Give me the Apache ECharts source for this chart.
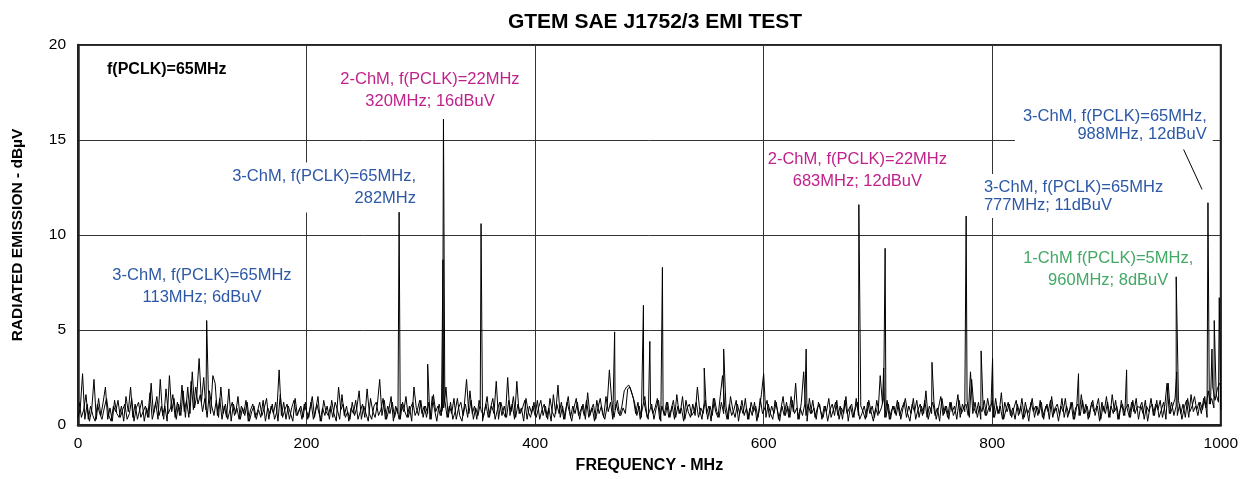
<!DOCTYPE html>
<html>
<head>
<meta charset="utf-8">
<title>GTEM SAE J1752/3 EMI TEST</title>
<script src="https://cdn.jsdelivr.net/npm/echarts@6/dist/echarts.min.js"></script>
<style>
  html, body { margin: 0; padding: 0; background: #fff; }
  #chart { width: 1241px; height: 479px; }
</style>
</head>
<body>
<div id="chart"></div>
<script>
// Axis ticks
const xTicks = [0, 200, 400, 600, 800, 1000];
const yTicks = [0, 5, 10, 15, 20];

// Sweep A: noise floor sampled every 2 MHz starting at 0 MHz (dBuV)
const sweepAStart = 0;
const sweepAStep = 2;
const sweepA = [
  0.4, 0.9, 2.7, 0.3, 1.1, 0.2, 0.8, 2.4, 0.3, 1.4,
  0.5, 1.2, 2.0, 0.3, 0.9, 0.2, 1.3, 0.6, 0.4, 1.0,
  0.2, 1.5, 0.7, 2.0, 0.4, 1.1, 0.3, 0.8, 1.3, 0.2,
  0.9, 0.4, 2.2, 0.6, 1.2, 0.3, 2.4, 0.5, 1.0, 0.2,
  2.6, 0.7, 1.4, 0.3, 1.1, 0.5, 1.8, 0.4, 2.0, 0.6,
  2.8, 0.9, 1.6, 3.5, 1.2, 2.5, 0.8, 1.9, 0.6, 2.6,
  2.2, 0.5, 1.4, 0.3, 1.0, 0.4, 1.9, 0.2, 1.1, 0.6,
  1.5, 0.3, 0.9, 0.5, 1.2, 0.2, 0.7, 1.0, 0.3, 0.8,
  0.4, 1.3, 0.2, 0.9, 0.6, 1.1, 0.3, 0.7, 2.9, 0.5,
  1.2, 0.3, 1.0, 0.6, 0.2, 1.4, 0.5, 0.9, 0.3, 1.1,
  0.7, 0.4, 1.2, 0.3, 0.8, 1.5, 0.2, 0.9, 0.5, 1.0,
  0.3, 1.3, 0.6, 0.2, 2.0, 0.8, 1.1, 0.4, 0.7, 0.3,
  1.2, 0.5, 0.9, 1.8, 0.3, 1.0, 0.6, 0.2, 1.4, 0.7,
  0.4, 1.1, 2.4, 0.5, 1.3, 0.3, 0.8, 1.5, 0.2, 1.0,
  0.6, 0.3, 1.2, 0.7, 0.4, 1.0, 0.2, 2.0, 0.9, 0.5,
  1.3, 0.4, 1.0, 0.6, 0.3, 1.5, 0.8, 0.2, 1.1, 0.5,
  0.9, 2.0, 0.4, 1.2, 0.3, 0.7, 1.4, 0.5, 0.2, 1.0,
  2.4, 0.6, 1.3, 0.3, 0.9, 0.5, 1.1, 0.2, 0.8, 1.5,
  0.4, 1.0, 0.6, 2.3, 0.3, 1.2, 0.7, 0.4, 2.5, 0.5,
  1.1, 0.3, 2.3, 0.6, 0.9, 0.2, 1.4, 0.7, 0.4, 1.0,
  0.5, 1.3, 0.3, 0.8, 1.1, 0.4, 0.9, 0.2, 1.6, 0.6,
  2.1, 0.4, 1.0, 0.3, 1.2, 0.7, 0.2, 0.9, 1.4, 0.5,
  0.8, 1.1, 0.3, 1.7, 0.5, 0.9, 0.2, 1.3, 0.6, 1.0,
  0.4, 1.5, 0.7, 1.2, 0.3, 0.8, 1.3, 0.5, 1.0, 1.8,
  2.0, 2.1, 1.8, 1.4, 0.6, 1.2, 0.3, 0.9, 1.5, 0.4,
  0.7, 1.1, 0.3, 0.9, 1.3, 0.2, 0.8, 0.5, 1.2, 0.4,
  1.0, 0.3, 1.6, 0.6, 0.9, 0.2, 1.3, 0.7, 0.4, 1.1,
  0.5, 2.0, 0.8, 0.3, 1.2, 0.6, 1.0, 0.2, 1.4, 0.7,
  0.4, 1.5, 2.6, 0.9, 0.3, 1.1, 0.5, 0.8, 1.3, 0.2,
  1.0, 0.6, 1.4, 0.3, 0.9, 0.5, 1.2, 0.2, 0.7, 1.6,
  2.7, 0.4, 1.1, 0.6, 0.3, 1.3, 0.8, 0.2, 1.0, 0.5,
  1.2, 0.4, 1.5, 0.7, 2.2, 0.3, 0.9, 0.5, 1.1, 0.2,
  1.4, 0.6, 0.9, 0.3, 1.2, 0.7, 0.4, 1.0, 0.2, 0.8,
  1.1, 0.5, 1.3, 0.3, 0.9, 0.6, 1.5, 0.2, 1.0, 0.4,
  0.8, 1.2, 0.3, 0.6, 1.0, 0.4, 1.3, 0.7, 0.2, 0.9,
  0.5, 2.6, 1.1, 0.4, 1.3, 0.3, 0.8, 1.0, 0.5, 1.2,
  0.3, 0.9, 1.4, 0.6, 0.2, 1.1, 0.7, 1.3, 0.4, 1.0,
  0.6, 1.8, 0.3, 0.8, 1.2, 0.5, 0.9, 0.2, 1.4, 0.6,
  1.0, 0.3, 1.2, 0.5, 0.8, 1.6, 0.4, 1.1, 0.7, 1.3,
  0.4, 2.4, 0.9, 0.6, 1.2, 0.3, 1.0, 0.5, 1.4, 0.7,
  1.3, 0.4, 1.0, 0.6, 1.7, 0.3, 0.8, 1.2, 0.5, 0.9,
  0.3, 1.1, 0.6, 1.4, 0.4, 0.9, 0.2, 1.2, 0.7, 1.0,
  0.5, 1.3, 0.4, 0.8, 1.1, 0.3, 1.5, 0.6, 0.9, 0.2,
  1.0, 0.7, 1.4, 0.4, 0.8, 1.2, 0.3, 1.0, 0.5, 1.6,
  0.6, 1.1, 0.3, 0.9, 1.3, 0.5, 1.0, 0.2, 1.2, 0.7,
  1.5, 0.4, 1.0, 0.6, 1.3, 0.3, 0.8, 1.1, 0.5, 0.9,
  0.4, 1.2, 0.7, 1.4, 0.3, 1.0, 0.6, 1.3, 0.2, 0.9,
  1.1, 0.5, 1.3, 0.4, 0.8, 1.2, 0.3, 2.2, 0.6, 1.0,
  1.4, 0.5, 1.1, 0.3, 0.9, 1.3, 0.4, 1.6, 0.7, 1.0,
  0.5, 1.2, 0.8, 1.5, 0.4, 1.1, 1.4, 0.9, 1.6, 1.2,
  0.8
];

// Sweep B: noise floor sampled every 2 MHz starting at 1 MHz (dBuV)
const sweepBStart = 1;
const sweepBStep = 2;
const sweepB = [
  1.2, 0.4, 0.8, 1.6, 0.3, 1.0, 0.5, 0.2, 1.1, 0.6,
  0.3, 0.9, 1.4, 0.5, 0.2, 1.0, 0.7, 1.3, 0.4, 0.8,
  1.1, 0.3, 0.6, 1.4, 0.2, 0.9, 1.2, 0.4, 0.7, 1.0,
  0.4, 1.7, 0.3, 0.8, 1.5, 0.5, 1.0, 0.3, 1.9, 0.6,
  0.9, 1.6, 0.4, 1.2, 0.5, 2.1, 0.7, 1.3, 0.4, 2.3,
  0.8, 2.0, 1.1, 1.6, 0.7, 1.4, 0.4, 1.8, 1.0, 0.5,
  1.3, 0.4, 2.0, 0.6, 1.1, 0.3, 0.8, 1.2, 0.5, 0.9,
  0.3, 1.0, 0.6, 1.3, 0.2, 0.8, 1.1, 0.4, 0.7, 1.2,
  0.5, 0.9, 1.4, 0.3, 1.0, 0.6, 1.2, 0.2, 1.6, 0.4,
  0.8, 1.1, 0.3, 0.9, 1.3, 0.5, 0.7, 1.0, 0.4, 1.2,
  0.3, 0.9, 1.5, 0.4, 1.1, 0.6, 0.2, 1.3, 0.7, 0.5,
  1.0, 0.4, 1.2, 0.8, 0.3, 1.6, 0.5, 1.0, 0.2, 0.9,
  0.6, 1.3, 0.3, 0.7, 1.1, 0.4, 1.9, 0.6, 0.3, 1.0,
  1.2, 0.5, 0.8, 1.4, 0.3, 1.0, 0.6, 1.2, 0.4, 0.9,
  0.3, 1.1, 0.7, 1.5, 0.4, 0.9, 1.2, 0.5, 0.8, 1.3,
  0.6, 1.0, 0.4, 1.2, 0.3, 1.6, 0.7, 1.0, 0.5, 0.8,
  1.3, 0.4, 1.0, 0.6, 1.4, 0.3, 0.9, 1.2, 0.5, 1.1,
  0.4, 1.8, 0.6, 1.0, 0.3, 1.3, 0.7, 0.5, 1.1, 0.4,
  0.9, 1.4, 0.3, 0.8, 1.2, 0.5, 1.0, 0.4, 1.3, 0.7,
  1.5, 0.4, 1.1, 0.6, 0.9, 1.3, 0.3, 1.0, 0.6, 1.2,
  0.4, 0.9, 1.3, 0.5, 1.0, 0.3, 1.4, 0.7, 0.4, 1.1,
  0.6, 1.2, 0.3, 0.9, 1.5, 0.4, 1.0, 0.6, 1.2, 0.3,
  1.0, 0.5, 1.3, 0.4, 0.8, 1.1, 0.3, 0.9, 1.4, 0.6,
  0.3, 1.0, 2.9, 1.3, 0.4, 1.1, 0.6, 0.5, 0.9, 0.6,
  1.9, 2.0, 1.6, 1.2, 0.5, 1.0, 0.4, 1.3, 0.7, 0.3,
  1.1, 0.6, 0.9, 1.4, 0.3, 1.0, 0.5, 1.2, 0.4, 0.8,
  1.3, 0.4, 1.0, 0.6, 1.5, 0.3, 0.9, 1.1, 0.5, 0.7,
  1.2, 0.4, 0.9, 0.6, 1.3, 0.3, 1.0, 0.5, 1.4, 0.7,
  0.4, 1.2, 0.6, 1.0, 0.3, 1.5, 0.8, 0.4, 1.1, 0.6,
  1.3, 0.5, 0.9, 0.3, 1.2, 0.7, 1.0, 0.4, 1.4, 0.6,
  0.9, 1.3, 0.4, 1.0, 0.6, 1.2, 0.3, 0.8, 1.5, 0.5,
  1.0, 0.4, 1.3, 0.6, 0.9, 0.3, 1.2, 2.8, 0.5, 1.1,
  0.6, 1.3, 0.4, 0.9, 1.1, 0.3, 1.0, 0.7, 1.4, 0.4,
  0.8, 1.2, 0.5, 1.0, 0.3, 1.3, 0.6, 0.9, 1.1, 0.4,
  1.4, 0.5, 1.0, 0.7, 0.3, 1.2, 0.6, 1.0, 0.4, 1.3,
  0.6, 0.9, 1.4, 0.4, 1.1, 0.3, 1.0, 0.6, 1.3, 0.5,
  0.9, 1.2, 0.4, 1.0, 0.6, 1.4, 0.3, 0.8, 1.1, 0.5,
  1.3, 0.4, 1.0, 0.6, 1.2, 0.3, 0.9, 1.5, 0.5, 1.0,
  0.4, 1.2, 0.7, 1.0, 0.3, 1.3, 0.6, 0.9, 1.1, 0.5,
  2.8, 0.6, 1.2, 0.4, 1.0, 0.7, 1.3, 0.5, 0.9, 1.1,
  0.4, 1.4, 0.6, 1.0, 0.3, 1.2, 0.7, 1.1, 0.4, 0.9,
  1.3, 0.5, 1.0, 0.3, 1.2, 0.6, 0.9, 1.4, 0.4, 1.0,
  0.6, 1.2, 0.3, 1.0, 0.7, 1.3, 0.4, 0.9, 1.1, 0.5,
  1.4, 0.4, 1.0, 0.6, 1.2, 0.3, 0.9, 1.1, 0.5, 1.3,
  0.6, 1.0, 0.4, 1.2, 0.7, 0.9, 1.4, 0.3, 1.0, 0.6,
  1.2, 0.4, 1.6, 0.7, 1.0, 0.3, 1.3, 0.5, 0.9, 1.1,
  0.4, 1.3, 0.6, 1.0, 0.9, 1.2, 0.3, 1.0, 0.7, 1.4,
  0.5, 1.1, 0.8, 1.3, 0.4, 1.0, 2.2, 0.6, 1.2, 0.5,
  1.0, 1.3, 0.6, 1.1, 0.4, 1.4, 0.7, 1.0, 1.5, 0.8,
  1.2, 0.6, 1.4, 0.9, 1.8, 1.1, 2.0, 1.3, 1.9, 2.2
];

// Discrete emission lines [MHz, dBuV] caught by each sweep
const linesA = [
  [112.6, 5.5], [281.0, 11.2], [306.0, 3.2], [319.4, 8.7], [352.7, 10.6],
  [469.6, 4.9], [511.4, 8.3], [548.0, 3.0], [637.2, 4.0], [705.0, 3.0],
  [777.2, 11.0], [790.3, 3.9], [875.5, 2.7], [917.6, 2.9], [961.5, 2.8],
  [988.8, 11.7], [994.3, 5.5], [998.7, 6.7]
];
const linesB = [
  [319.8, 16.1], [494.8, 6.3], [500.4, 4.4], [565.0, 4.0], [683.3, 11.6],
  [706.3, 9.3], [747.3, 3.3], [800.3, 3.5], [961.0, 7.8], [992.3, 4.0]
];

// Annotation texts
const noteMode = 'f(PCLK)=65MHz';
const note113 = '3-ChM, f(PCLK)=65MHz\n113MHz; 6dBuV';
const note282 = '3-ChM, f(PCLK)=65MHz,\n282MHz';
const note320 = '2-ChM, f(PCLK)=22MHz\n320MHz; 16dBuV';
const note683 = '2-ChM, f(PCLK)=22MHz\n683MHz; 12dBuV';
const note777 = '3-ChM, f(PCLK)=65MHz\n777MHz; 11dBuV';
const note988 = '3-ChM, f(PCLK)=65MHz,\n988MHz, 12dBuV';
const note960 = '1-ChM f(PCLK)=5MHz,\n960MHz; 8dBuV';

// Leader from the 988 MHz note towards its emission line
const leader988 = [[967.5, 14.5], [983.6, 12.4]];

const BLUE = '#2c58a6';
const MAGENTA = '#c0228b';
const GREEN = '#43a765';
const FONT = 'Liberation Sans, Arial, sans-serif';

function buildSweep(start, step, values, lines) {
  const pts = values.map((v, i) => [start + i * step, v]);
  lines.forEach(p => pts.push(p));
  pts.sort((a, b) => a[0] - b[0]);
  return pts;
}

function note(x, y, text, color, pos, opts) {
  return {
    value: [x, y],
    label: Object.assign({
      show: true,
      formatter: text,
      position: pos,
      distance: 0,
      color: color,
      fontFamily: FONT,
      fontSize: 16.5,
      lineHeight: 22
    }, opts || {})
  };
}

const chart = echarts.init(document.getElementById('chart'), null, { renderer: 'canvas' });

const traceStyle = { color: '#000', width: 1 };

chart.setOption({
  animation: false,
  backgroundColor: '#fff',
  title: {
    text: 'GTEM SAE J1752/3 EMI TEST',
    left: 650,
    textAlign: 'center',
    top: 7,
    textStyle: { fontFamily: FONT, fontSize: 21, fontWeight: 'bold', color: '#000' }
  },
  grid: {
    left: 78, right: 20, top: 45, bottom: 51,
    show: true, borderColor: '#222', borderWidth: 2, backgroundColor: 'transparent'
  },
  xAxis: {
    type: 'value',
    min: xTicks[0], max: xTicks[xTicks.length - 1], interval: 200,
    name: 'FREQUENCY - MHz',
    nameLocation: 'middle',
    nameGap: 33,
    nameTextStyle: { fontFamily: FONT, fontSize: 16, fontWeight: 'bold', color: '#000' },
    axisLine: { show: true, onZero: false, lineStyle: { color: '#222', width: 2.5 } },
    axisTick: { show: false },
    axisLabel: { fontFamily: FONT, fontSize: 15.5, color: '#000', margin: 11, formatter: v => String(v) },
    splitLine: { show: true, lineStyle: { color: '#333', width: 1 } }
  },
  yAxis: {
    type: 'value',
    min: yTicks[0], max: yTicks[yTicks.length - 1], interval: 5,
    name: 'RADIATED EMISSION - dBµV',
    nameLocation: 'middle',
    nameGap: 52,
    nameTextStyle: { fontFamily: FONT, fontSize: 15.5, fontWeight: 'bold', color: '#000' },
    axisLine: { show: true, lineStyle: { color: '#222', width: 2.5 } },
    axisTick: { show: false },
    axisLabel: { fontFamily: FONT, fontSize: 15.5, color: '#000', margin: 12, formatter: v => String(v) },
    splitLine: { show: true, lineStyle: { color: '#333', width: 1 } }
  },
  series: [
    {
      name: 'notes',
      type: 'scatter',
      z: 1,
      symbolSize: 0,
      silent: true,
      itemStyle: { opacity: 1 },
      data: [
        note(25.4, 18.7, noteMode, '#000', 'right', { fontSize: 16, fontWeight: 'bold' }),
        note(108.5, 7.3, note113, BLUE, 'inside'),
        note(297.5, 12.5, note282, BLUE, 'left', { backgroundColor: '#fff', padding: [3, 2, 3, 10] }),
        note(308, 17.6, note320, MAGENTA, 'inside'),
        note(682, 13.4, note683, MAGENTA, 'inside'),
        note(791, 12.05, note777, BLUE, 'right', { lineHeight: 18, backgroundColor: '#fff', padding: [4, 10, 4, 2] }),
        note(993, 15.75, note988, BLUE, 'left', { lineHeight: 18, backgroundColor: '#fff', padding: [8, 6, 8, 8] }),
        note(901.5, 8.2, note960, GREEN, 'inside')
      ]
    },
    {
      name: 'leader',
      type: 'line',
      z: 3,
      symbol: 'none',
      silent: true,
      lineStyle: { color: '#000', width: 1 },
      data: leader988
    },
    {
      name: 'sweep A',
      type: 'line',
      z: 3,
      symbol: 'none',
      sampling: null,
      lineStyle: traceStyle,
      data: buildSweep(sweepAStart, sweepAStep, sweepA, linesA)
    },
    {
      name: 'sweep B',
      type: 'line',
      z: 3,
      symbol: 'none',
      sampling: null,
      lineStyle: traceStyle,
      data: buildSweep(sweepBStart, sweepBStep, sweepB, linesB)
    }
  ]
});
</script>
</body>
</html>
